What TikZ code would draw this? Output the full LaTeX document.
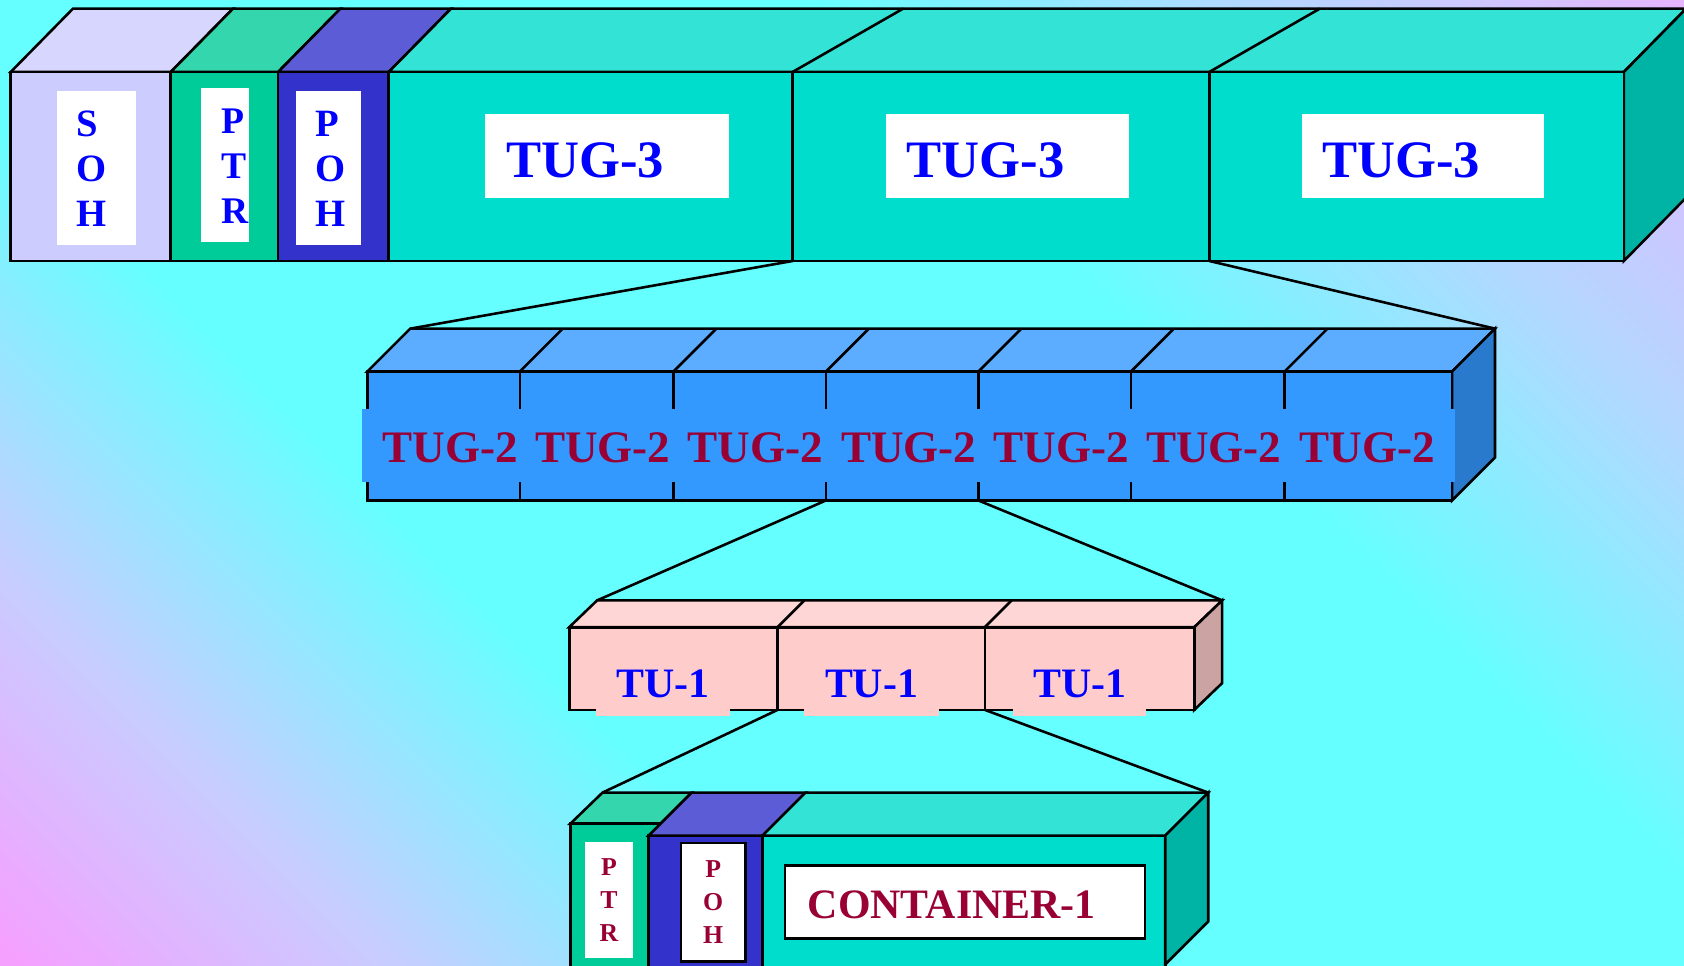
\documentclass[tikz,border=0pt]{standalone}
\usepackage{fontspec}
\setmainfont{Liberation Serif}

\definecolor{sohfront}{RGB}{204,204,255}
\definecolor{sohtop}{RGB}{214,214,255}
\definecolor{ptrfront}{RGB}{0,204,153}
\definecolor{ptrtop}{RGB}{51,214,173}
\definecolor{pohfront}{RGB}{51,51,204}
\definecolor{pohtop}{RGB}{92,92,214}
\definecolor{tugfront}{RGB}{0,221,204}
\definecolor{tugtop}{RGB}{51,228,214}
\definecolor{tugside}{RGB}{0,180,165}
\definecolor{tgfront}{RGB}{51,153,255}
\definecolor{tgtop}{RGB}{92,173,255}
\definecolor{tgside}{RGB}{41,122,204}
\definecolor{tufront}{RGB}{255,204,204}
\definecolor{tutop}{RGB}{255,214,214}
\definecolor{tuside}{RGB}{204,163,163}
\definecolor{labelred}{RGB}{153,0,51}
\definecolor{bgpink}{RGB}{245,160,255}
\definecolor{bglav}{RGB}{200,205,255}
\definecolor{bgcyan}{RGB}{102,255,255}
\definecolor{bgblue}{RGB}{175,218,255}
\definecolor{bgviolet}{RGB}{232,180,255}

\pgfdeclarehorizontalshading{bgshade}{100bp}{color(0bp)=(bgpink); color(15bp)=(bgpink); color(25bp)=(bglav); color(37bp)=(bgcyan); color(62bp)=(bgcyan); color(73bp)=(bgblue); color(86bp)=(bgviolet); color(100bp)=(bgviolet)}

\tikzset{
	face/.style={draw=black, line width=2.4pt},
	cell/.style={face, anchor=north west, inner sep=0pt, outer sep=0pt},
	card/.style={fill=white, anchor=north west, inner sep=0pt, outer sep=0pt},
	topstack/.style={anchor=west, align=left, inner sep=0pt, text=blue, font=\bfseries\fontsize{36}{42}\selectfont},
	lowstack/.style={align=center, inner sep=0pt, text=labelred, font=\bfseries\fontsize{24}{30.5}\selectfont},
	tugtag/.style={anchor=base west, inner sep=0pt, text=blue, font=\bfseries\fontsize{49}{58}\selectfont},
	tgtag/.style={anchor=base west, inner sep=0pt, text=labelred, font=\bfseries\fontsize{42}{50}\selectfont},
	tutag/.style={anchor=base west, inner sep=0pt, text=blue, font=\bfseries\fontsize{39}{46}\selectfont},
	bodytag/.style={anchor=base west, inner sep=0pt, text=labelred, font=\bfseries\fontsize{39}{46}\selectfont}
}

\begin{document}
\begin{tikzpicture}[x=1pt, y=-1pt]
	
	\path[use as bounding box] (0,0) rectangle (1568,899);
	\clip (0,0) rectangle (1568,899);
	\shade[shading=bgshade, shading angle=45] (0,0) rectangle (1568,899);
	
	% STM-1 frame
	\filldraw[face, fill=sohtop] (10,67) -- (68,8) -- (217,8) -- (159,67) -- cycle;
	\filldraw[face, fill=ptrtop] (159,67) -- (217,8) -- (317,8) -- (259,67) -- cycle;
	\filldraw[face, fill=pohtop] (259,67) -- (317,8) -- (420,8) -- (362,67) -- cycle;
	\filldraw[face, fill=tugtop] (362,67) -- (420,8) -- (1570,8) -- (1512,67) -- cycle;
	\filldraw[face, fill=tugside] (1512,67) -- (1570,8) -- (1570,184) -- (1512,243) -- cycle;
	
	\node[cell, fill=sohfront, minimum width=149pt, minimum height=176pt] (soh) at (10,67) {};
	\node[cell, fill=ptrfront, minimum width=100pt, minimum height=176pt] (ptr) at (159,67) {};
	\node[cell, fill=pohfront, minimum width=103pt, minimum height=176pt] (poh) at (259,67) {};
	\node[cell, fill=tugfront, minimum width=376pt, minimum height=176pt] (tugA) at (362,67) {};
	\node[cell, fill=tugfront, minimum width=388pt, minimum height=176pt] (tugB) at (738,67) {};
	\node[cell, fill=tugfront, minimum width=386pt, minimum height=176pt] (tugC) at (1126,67) {};
	\draw[face] (tugB.north west) -- ++(103,-59);
	\draw[face] (tugC.north west) -- ++(103,-59);
	
	\node[card, minimum width=74pt, minimum height=143pt] (sohcard) at (53,85) {};
	\node[card, minimum width=45pt, minimum height=143pt] (ptrcard) at (187,82) {};
	\node[card, minimum width=60pt, minimum height=143pt] (pohcard) at (276,85) {};
	\node[topstack] (sohtext) at (71,157) {S\\O\\H};
	\node[topstack, font=\bfseries\fontsize{35}{42}\selectfont] (ptrtext) at (206,155) {P\\T\\R};
	\node[topstack] (pohtext) at (294,157) {P\\O\\H};
	
	\node[card, minimum width=227pt, minimum height=78pt] (tugcardA) at (452,106) {};
	\node[card, minimum width=226pt, minimum height=78pt] (tugcardB) at (825,106) {};
	\node[card, minimum width=226pt, minimum height=78pt] (tugcardC) at (1212,106) {};
	\node[tugtag] (tugtextA) at (471,165) {TUG-3};
	\node[tugtag] (tugtextB) at (844,165) {TUG-3};
	\node[tugtag] (tugtextC) at (1231,165) {TUG-3};
	
	% TUG-3 into TUG-2
	\coordinate (tgback) at (382,306);
	\coordinate (tgbackright) at (1392,306);
	\path[face] (tugB.south west) edge (tgback);
	\path[face] (tugC.south west) edge (tgbackright);
	
	\filldraw[face, fill=tgtop] (342,346) -- (tgback) -- (tgbackright) -- (1352,346) -- cycle;
	\filldraw[face, fill=tgside] (1352,346) -- (tgbackright) -- (1392,426) -- (1352,466) -- cycle;
	
	\node[cell, fill=tgfront, minimum width=142pt, minimum height=120pt] (tgA) at (342,346) {};
	\node[cell, fill=tgfront, minimum width=143pt, minimum height=120pt] (tgB) at (484,346) {};
	\node[cell, fill=tgfront, minimum width=142pt, minimum height=120pt] (tgC) at (627,346) {};
	\node[cell, fill=tgfront, minimum width=142pt, minimum height=120pt] (tgD) at (769,346) {};
	\node[cell, fill=tgfront, minimum width=142pt, minimum height=120pt] (tgE) at (911,346) {};
	\node[cell, fill=tgfront, minimum width=143pt, minimum height=120pt] (tgF) at (1053,346) {};
	\node[cell, fill=tgfront, minimum width=156pt, minimum height=120pt] (tgG) at (1196,346) {};
	\draw[face] (tgB.north west) -- ++(40,-40);
	\draw[face] (tgC.north west) -- ++(40,-40);
	\draw[face] (tgD.north west) -- ++(40,-40);
	\draw[face] (tgE.north west) -- ++(40,-40);
	\draw[face] (tgF.north west) -- ++(40,-40);
	\draw[face] (tgG.north west) -- ++(40,-40);
	
	\fill[tgfront] (337,381) rectangle (1355,449);
	\node[tgtag] (tgtextA) at (356,431) {TUG-2};
	\node[tgtag] (tgtextB) at (498,431) {TUG-2};
	\node[tgtag] (tgtextC) at (640,431) {TUG-2};
	\node[tgtag] (tgtextD) at (783,431) {TUG-2};
	\node[tgtag] (tgtextE) at (925,431) {TUG-2};
	\node[tgtag] (tgtextF) at (1067,431) {TUG-2};
	\node[tgtag] (tgtextG) at (1210,431) {TUG-2};
	
	% TUG-2 into TU-1
	\coordinate (tuback) at (556,559);
	\coordinate (tubackright) at (1138,559);
	\path[face] (tgD.south west) edge (tuback);
	\path[face] (tgE.south west) edge (tubackright);
	
	\filldraw[face, fill=tutop] (530,584) -- (tuback) -- (tubackright) -- (1112,584) -- cycle;
	\filldraw[face, fill=tuside] (1112,584) -- (tubackright) -- (1138,636) -- (1112,661) -- cycle;
	
	\node[cell, fill=tufront, minimum width=194pt, minimum height=77pt] (tuA) at (530,584) {};
	\node[cell, fill=tufront, minimum width=193pt, minimum height=77pt] (tuB) at (724,584) {};
	\node[cell, fill=tufront, minimum width=195pt, minimum height=77pt] (tuC) at (917,584) {};
	\draw[face] (tuB.north west) -- ++(25,-25);
	\draw[face] (tuC.north west) -- ++(25,-25);
	
	\fill[tufront] (555,612) rectangle (680,667);
	\fill[tufront] (749,612) rectangle (874,667);
	\fill[tufront] (943,612) rectangle (1067,667);
	\node[tutag] (tutextA) at (574,649) {TU-1};
	\node[tutag] (tutextB) at (768,649) {TU-1};
	\node[tutag] (tutextC) at (962,649) {TU-1};
	
	% TU-1 into container
	\coordinate (cback) at (561,738);
	\coordinate (cbackright) at (1125,738);
	\path[face] (tuB.south west) edge (cback);
	\path[face] (tuC.south west) edge (cbackright);
	
	\filldraw[face, fill=ptrtop] (531,767) -- (cback) -- (644,738) -- (615,767) -- cycle;
	\node[cell, fill=ptrfront, minimum width=84pt, minimum height=150pt] (cptr) at (531,767) {};
	\node[cell, fill=pohfront, minimum width=106pt, minimum height=140pt] (cpoh) at (604,778) {};
	\filldraw[face, fill=pohtop] (604,778) -- (644,738) -- (750,738) -- (710,778) -- cycle;
	\node[cell, fill=tugfront, minimum width=375pt, minimum height=140pt] (cbody) at (710,778) {};
	\filldraw[face, fill=tugtop] (710,778) -- (750,738) -- (cbackright) -- (1085,778) -- cycle;
	\filldraw[face, fill=tugside] (1085,778) -- (cbackright) -- (1125,858) -- (1085,898) -- cycle;
	
	\node[card, minimum width=44pt, minimum height=108pt] (cptrcard) at (545,784) {};
	\node[card, draw=black, line width=2.4pt, minimum width=60pt, minimum height=110pt] (cpohcard) at (634,785) {};
	\node[card, draw=black, line width=2.4pt, minimum width=335pt, minimum height=68pt] (cbodycard) at (731,806) {};
	\node[lowstack] (cptrtext) at (cptrcard.center) {P\\T\\R};
	\node[lowstack] (cpohtext) at (cpohcard.center) {P\\O\\H};
	\node[bodytag] (cbodytext) at (752,855) {CONTAINER-1};
	
\end{tikzpicture}
\end{document}
